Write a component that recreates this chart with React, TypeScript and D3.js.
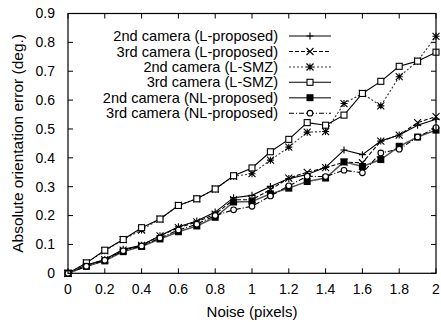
import React from "react";
import * as d3 from "d3";

const noise = [0, 0.1, 0.2, 0.3, 0.4, 0.5, 0.6, 0.7, 0.8, 0.9, 1.0, 1.1, 1.2, 1.3, 1.4, 1.5, 1.6, 1.7, 1.8, 1.9, 2.0];

const lProposed2 = [0, 0.028, 0.048, 0.083, 0.097, 0.130, 0.161, 0.181, 0.212, 0.262, 0.270, 0.301, 0.328, 0.342, 0.367, 0.427, 0.411, 0.458, 0.479, 0.513, 0.534];
const lProposed3 = [0, 0.028, 0.047, 0.080, 0.097, 0.130, 0.158, 0.178, 0.205, 0.255, 0.255, 0.290, 0.330, 0.350, 0.366, 0.385, 0.383, 0.458, 0.479, 0.522, 0.543];
const lSmz2 = [0, 0.036, 0.078, 0.117, 0.150, 0.188, 0.235, 0.258, 0.292, 0.336, 0.345, 0.392, 0.437, 0.489, 0.491, 0.588, 0.623, 0.580, 0.681, 0.735, 0.821];
const lSmz3 = [0, 0.036, 0.080, 0.117, 0.158, 0.188, 0.235, 0.258, 0.292, 0.338, 0.365, 0.421, 0.464, 0.522, 0.513, 0.548, 0.623, 0.665, 0.717, 0.735, 0.766];
const nlProposed2 = [0, 0.024, 0.043, 0.075, 0.093, 0.119, 0.144, 0.164, 0.194, 0.247, 0.249, 0.275, 0.295, 0.318, 0.330, 0.386, 0.370, 0.394, 0.440, 0.472, 0.496];
const nlProposed3 = [0, 0.024, 0.045, 0.078, 0.095, 0.122, 0.150, 0.170, 0.200, 0.220, 0.232, 0.268, 0.303, 0.336, 0.335, 0.357, 0.348, 0.417, 0.430, 0.472, 0.505];

const seriesNames = [
  "2nd camera (L-proposed)",
  "3rd camera (L-proposed)",
  "2nd camera (L-SMZ)",
  "3rd camera (L-SMZ)",
  "2nd camera (NL-proposed)",
  "3rd camera (NL-proposed)",
];
const seriesValues = [lProposed2, lProposed3, lSmz2, lSmz3, nlProposed2, nlProposed3];

const xTicks = [0, 0.2, 0.4, 0.6, 0.8, 1, 1.2, 1.4, 1.6, 1.8, 2];
const yTicks = [0, 0.1, 0.2, 0.3, 0.4, 0.5, 0.6, 0.7, 0.8, 0.9];

type Style = { marker: string; dash: string; stroke: string; width: number };
const styles: Style[] = [
  { marker: "plus", dash: "", stroke: "#000", width: 1.1 },
  { marker: "cross", dash: "4,2", stroke: "#000", width: 1.1 },
  { marker: "star", dash: "2,2", stroke: "#333", width: 1.1 },
  { marker: "square", dash: "", stroke: "#000", width: 1.1 },
  { marker: "fsquare", dash: "", stroke: "#555", width: 1.5 },
  { marker: "circle", dash: "5,2,1,2", stroke: "#000", width: 1.1 },
];

const FONT = "'Liberation Sans', Arial, Helvetica, sans-serif";

function Marker({ type, x, y }: { type: string; x: number; y: number }) {
  const s = 3.5;
  const p = { stroke: "#000", strokeWidth: 1.1, fill: "none" };
  if (type === "plus")
    return <path d={`M${x - s},${y}H${x + s}M${x},${y - s}V${y + s}`} {...p} />;
  if (type === "cross")
    return <path d={`M${x - s},${y - s}L${x + s},${y + s}M${x - s},${y + s}L${x + s},${y - s}`} {...p} />;
  if (type === "star")
    return (
      <path
        d={`M${x - s},${y}H${x + s}M${x},${y - s}V${y + s}M${x - s},${y - s}L${x + s},${y + s}M${x - s},${y + s}L${x + s},${y - s}`}
        {...p}
      />
    );
  if (type === "square") return <rect x={x - 3} y={y - 3} width={6} height={6} {...p} fill="#fff" />;
  if (type === "fsquare") return <rect x={x - 3.5} y={y - 3.5} width={7} height={7} fill="#000" />;
  return <circle cx={x} cy={y} r={2.8} {...p} fill="#fff" />;
}

export default function App() {
  const W = 441, H = 322;
  const left = 68, right = 436, top = 13.5, bottom = 273.3;
  const x = d3.scaleLinear().domain([0, 2]).range([left, right]);
  const y = d3.scaleLinear().domain([0, 0.9]).range([bottom, top]);
  const line = d3
    .line<number>()
    .x((_, i) => x(noise[i]))
    .y((d) => y(d));
  const tl = 5;
  const legendTextX = 278;
  const legendLine = [289, 331];
  const legendY = [36, 51.5, 67, 82.3, 97.7, 113.2];

  return (
    <svg width={W} height={H} style={{ position: "absolute", left: 0, top: 0, background: "#fff" }} fontFamily={FONT}>
      <rect width={W} height={H} fill="#fff" />
      {xTicks.map((t) => (
        <g key={"xt" + t}>
          <line x1={x(t)} x2={x(t)} y1={bottom} y2={bottom - tl} stroke="#000" />
          <line x1={x(t)} x2={x(t)} y1={top} y2={top + tl} stroke="#000" />
          <text x={x(t)} y={294} fontSize={14} textAnchor="middle">
            {String(t)}
          </text>
        </g>
      ))}
      {yTicks.map((t) => (
        <g key={"yt" + t}>
          <line x1={left} x2={left + tl} y1={y(t)} y2={y(t)} stroke="#000" />
          <line x1={right} x2={right - tl} y1={y(t)} y2={y(t)} stroke="#000" />
          <text x={55} y={y(t)} dy="0.35em" fontSize={14} textAnchor="end">
            {String(t)}
          </text>
        </g>
      ))}
      <text x={(left + right) / 2} y={317} fontSize={15} textAnchor="middle">
        Noise (pixels)
      </text>
      <text transform={`translate(23,${(top + bottom) / 2}) rotate(-90)`} fontSize={15.5} textAnchor="middle">
        Absolute orientation error (deg.)
      </text>
      {seriesValues.map((vals, si) => (
        <g key={"s" + si}>
          <path
            d={line(vals) || ""}
            fill="none"
            stroke={styles[si].stroke}
            strokeWidth={styles[si].width}
            strokeDasharray={styles[si].dash || undefined}
          />
          {vals.map((v, i) => (
            <Marker key={i} type={styles[si].marker} x={x(noise[i])} y={y(v)} />
          ))}
        </g>
      ))}
      {seriesNames.map((n, i) => (
        <g key={"l" + i}>
          <text x={legendTextX} y={legendY[i]} dy="0.35em" fontSize={14.6} textAnchor="end">
            {n}
          </text>
          <line
            x1={legendLine[0]}
            x2={legendLine[1]}
            y1={legendY[i]}
            y2={legendY[i]}
            stroke={styles[i].stroke}
            strokeWidth={styles[i].width}
            strokeDasharray={styles[i].dash || undefined}
          />
          <Marker type={styles[i].marker} x={(legendLine[0] + legendLine[1]) / 2} y={legendY[i]} />
        </g>
      ))}
      <rect x={left} y={top} width={right - left} height={bottom - top} fill="none" stroke="#000" strokeWidth={1.2} />
    </svg>
  );
}
